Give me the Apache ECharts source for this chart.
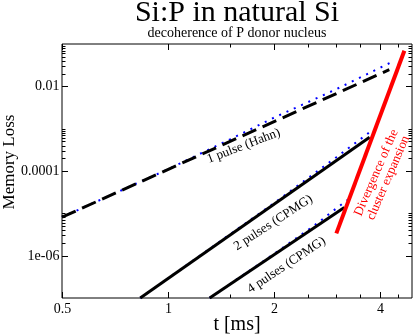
<!DOCTYPE html>
<html><head><meta charset="utf-8">
<script src="https://cdn.jsdelivr.net/npm/echarts@6/dist/echarts.min.js"></script>
<style>html,body{margin:0;padding:0;background:#fff}#c{width:415px;height:335px}</style>
</head><body><div id="c"></div>
<script>
// ---- data ----
const X_MIN = 0.5, X_MAX = 4.93;
const Y_MIN = 1e-7, Y_MAX = 0.1;
const xTicksMajor = [0.5, 1, 2, 4];
const xTickLabels = ['0.5', '1', '2', '4'];
const xTicksMinor = [1.5, 2.5, 3, 3.5, 4.5];
const yTicksMajor = [1e-2, 1e-4, 1e-6];
const yTickLabels = ['0.01', '0.0001', '1e-06'];
const yTicksMinor = [
  2e-2, 3e-2, 4e-2, 5e-2, 6e-2, 7e-2, 8e-2, 9e-2,
  1e-3,
  2e-4, 3e-4, 4e-4, 5e-4, 6e-4, 7e-4, 8e-4, 9e-4,
  1e-5,
  2e-6, 3e-6, 4e-6, 5e-6, 6e-6, 7e-6, 8e-6, 9e-6
];
// 1 pulse (Hahn)
const hahnT = [0.5, 4.25];
const hahnV = [8.1e-6, 0.0247];
const hahnExactT = [0.5, 1, 1.5, 2, 3, 4.335];
const hahnExactV = [8.1e-6, 1.1e-4, 5.6e-4, 1.82e-3, 8.5e-3, 0.0381];
// 2 pulses (CPMG)
const cpmg2T = [0.834, 3.737];
const cpmg2V = [1e-7, 6.3e-4];
const cpmg2ExactT = [0.834, 2, 3, 3.829];
const cpmg2ExactV = [1e-7, 1.74e-5, 2.09e-4, 9.57e-4];
// 4 pulses (CPMG)
const cpmg4T = [1.313, 3.167];
const cpmg4V = [1e-7, 1.38e-5];
const cpmg4ExactT = [1.313, 2, 2.6, 3.224];
const cpmg4ExactV = [1e-7, 1.1e-6, 5.13e-6, 2.05e-5];
// divergence of the cluster expansion
const divT = [3.006, 4.69];
const divV = [3.37e-6, 0.069];
// annotations (data coords)
const notes = [
  {text: '1 pulse (Hahn)', t: 1.64, v: 3.9e-4, angle: 21, color: '#000'},
  {text: '2 pulses (CPMG)', t: 1.99, v: 6.0e-6, angle: 33, color: '#000'},
  {text: '4 pulses (CPMG)', t: 2.17, v: 6.0e-7, angle: 33.7, color: '#000'},
  {text: 'Divergence of the\ncluster expansion', t: 4.06, v: 7.9e-5, angle: 66.6, color: '#ff0000'}
];

const zip = (a, b) => a.map((x, i) => [x, b[i]]);
const FONT = '"Liberation Serif", "Times New Roman", serif';

const chart = echarts.init(document.getElementById('c'), null, {renderer: 'canvas'});
const option = {
  animation: false,
  backgroundColor: '#fff',
  grid: {left: 62, right: 3, top: 44, bottom: 37, show: true, borderColor: '#000', borderWidth: 1, backgroundColor: 'transparent'},
  xAxis: {type: 'log', logBase: 2, min: X_MIN, max: X_MAX,
    axisLine: {show: false}, axisTick: {show: false}, axisLabel: {show: false}, splitLine: {show: false}},
  yAxis: {type: 'log', logBase: 10, min: Y_MIN, max: Y_MAX,
    axisLine: {show: false}, axisTick: {show: false}, axisLabel: {show: false}, splitLine: {show: false}},
  series: [
    {type: 'line', data: zip(hahnExactT, hahnExactV), symbol: 'none', z: 2,
      lineStyle: {color: '#0000ff', width: 2, type: [2, 6], cap: 'butt'}},
    {type: 'line', data: zip(cpmg2ExactT, cpmg2ExactV), symbol: 'none', z: 2,
      lineStyle: {color: '#0000ff', width: 2, type: [2, 6], cap: 'butt'}},
    {type: 'line', data: zip(cpmg4ExactT, cpmg4ExactV), symbol: 'none', z: 2,
      lineStyle: {color: '#0000ff', width: 2, type: [2, 6], cap: 'butt'}},
    {type: 'line', data: zip(hahnT, hahnV), symbol: 'none', z: 3,
      lineStyle: {color: '#000', width: 3, type: [15, 7], cap: 'butt'}},
    {type: 'line', data: zip(cpmg2T, cpmg2V), symbol: 'none', z: 3,
      lineStyle: {color: '#000', width: 3}},
    {type: 'line', data: zip(cpmg4T, cpmg4V), symbol: 'none', z: 3,
      lineStyle: {color: '#000', width: 3}},
    {type: 'line', data: zip(divT, divV), symbol: 'none', z: 4,
      lineStyle: {color: '#ff0000', width: 4}}
  ]
};
chart.setOption(option);

const P = (x, y) => chart.convertToPixel({gridIndex: 0}, [x, y]);
const g = [];
const tl = P(X_MIN, Y_MAX), br = P(X_MAX, Y_MIN);
const L = tl[0], T = tl[1], R = br[0], B = br[1];
const line = (x1, y1, x2, y2) => g.push({type: 'line', silent: true, z: 10,
  shape: {x1, y1, x2, y2}, style: {stroke: '#000', lineWidth: 1}});
const text = (s, x, y, size, align, valign, rot, color) => g.push({type: 'text', silent: true, z: 11,
  x, y, rotation: (rot || 0) * Math.PI / 180,
  style: {text: s, font: size + 'px ' + FONT, fill: color || '#000',
    align, textAlign: align, verticalAlign: valign, textVerticalAlign: valign, lineHeight: size}});

const MAJ = 6, MIN = 3.5;
xTicksMajor.forEach((v, i) => {
  const x = Math.round(P(v, Y_MIN)[0]) + 0.5;
  line(x, B, x, B - MAJ); line(x, T, x, T + MAJ);
  text(xTickLabels[i], x, B + 11, 14, 'center', 'middle');
});
xTicksMinor.forEach(v => {
  const x = Math.round(P(v, Y_MIN)[0]) + 0.5;
  line(x, B, x, B - MIN); line(x, T, x, T + MIN);
});
yTicksMajor.forEach((v, i) => {
  const y = Math.round(P(X_MIN, v)[1]) + 0.5;
  line(L, y, L + MAJ, y); line(R, y, R - MAJ, y);
  text(yTickLabels[i], L - 2.5, y, 14, 'right', 'middle');
});
yTicksMinor.forEach(v => {
  const y = Math.round(P(X_MIN, v)[1]) + 0.5;
  line(L, y, L + MIN, y); line(R, y, R - MIN, y);
});
// titles
const cx = (L + R) / 2;
text('Si:P in natural Si', cx, 13, 30, 'center', 'middle');
text('decoherence of P donor nucleus', cx, 33.5, 14, 'center', 'middle');
text('t [ms]', cx, 325, 20, 'center', 'middle');
text('Memory Loss', 10, (T + B) / 2 - 9, 17, 'center', 'middle', 90);
// annotations
notes.forEach(n => {
  const p = P(n.t, n.v);
  text(n.text, p[0], p[1], 13, 'center', 'middle', n.angle, n.color);
});
chart.setOption({graphic: {elements: g}});
</script>
</body></html>
